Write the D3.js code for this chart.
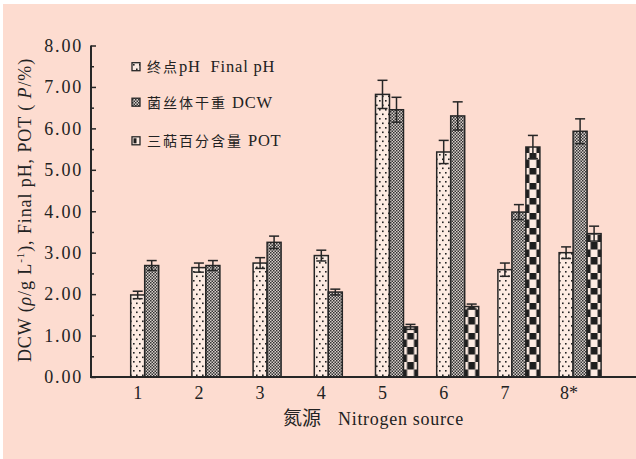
<!DOCTYPE html>
<html>
<head>
<meta charset="utf-8">
<script src="https://cdn.jsdelivr.net/npm/d3@7/dist/d3.min.js"></script>
<style>
  html, body { margin: 0; padding: 0; background: #ffffff; }
  svg { display: block; }
  text { font-family: "Liberation Serif", "Times New Roman", "Noto Sans CJK SC", serif; fill: #222; }
</style>
</head>
<body>
<svg id="chart" width="636" height="459"></svg>
<script>
// Nitrogen sources on the x axis
const categories = ["1", "2", "3", "4", "5", "6", "7", "8*"];
// Final pH of the broth
const finalPH    = [1.98, 2.64, 2.75, 2.93, 6.82, 5.43, 2.59, 3.00];
const finalPHErr = [0.09, 0.11, 0.13, 0.13, 0.34, 0.28, 0.16, 0.14];
// Dry cell weight (g/L)
const dcw        = [2.69, 2.69, 3.25, 2.05, 6.45, 6.30, 3.98, 5.93];
const dcwErr     = [0.12, 0.12, 0.15, 0.07, 0.30, 0.34, 0.18, 0.30];
// Triterpenoid content (%), only measured for sources 5-8
const pot        = [null, null, null, null, 1.21, 1.70, 5.55, 3.46];
const potErr     = [null, null, null, null, 0.06, 0.06, 0.28, 0.18];
const yTicks     = [0, 1, 2, 3, 4, 5, 6, 7, 8];
// legend entries: Chinese part, Latin part
const seriesZh = ["终点", "菌丝体干重", "三萜百分含量"];
const seriesEn = ["pH  Final pH", " DCW", " POT"];

const svg = d3.select("#chart");
const W = 636, H = 459;
const ink = "#262626";

// page background
svg.append("rect").attr("x", 3).attr("y", 4).attr("width", W - 3).attr("height", H - 4)
  .attr("fill", "#fddcd0");

const defs = svg.append("defs");

// dotted fill for final pH
const pDots = defs.append("pattern").attr("id", "pat-ph")
  .attr("patternUnits", "userSpaceOnUse").attr("width", 6).attr("height", 9);
pDots.append("rect").attr("width", 6).attr("height", 9).attr("fill", "#fdebe2");
pDots.append("rect").attr("x", 1).attr("y", 1).attr("width", 1.6).attr("height", 1.6).attr("fill", "#222");
pDots.append("rect").attr("x", 4).attr("y", 5.5).attr("width", 1.6).attr("height", 1.6).attr("fill", "#222");

// fine checker for DCW
const pFine = defs.append("pattern").attr("id", "pat-dcw")
  .attr("patternUnits", "userSpaceOnUse").attr("width", 3).attr("height", 3);
pFine.append("rect").attr("width", 3).attr("height", 3).attr("fill", "#d8cfcb");
pFine.append("rect").attr("x", 0).attr("y", 0).attr("width", 1.5).attr("height", 1.5).attr("fill", "#333");
pFine.append("rect").attr("x", 1.5).attr("y", 1.5).attr("width", 1.5).attr("height", 1.5).attr("fill", "#333");

// coarse checker for POT, built per bar so the squares line up with each bar
function potPattern(id, x0, y0) {
  const p = defs.append("pattern").attr("id", id)
    .attr("patternUnits", "userSpaceOnUse")
    .attr("x", x0).attr("y", y0).attr("width", 14).attr("height", 15);
  p.append("rect").attr("width", 14).attr("height", 15).attr("fill", "#fdebe2");
  p.append("rect").attr("x", 3.5).attr("y", 0).attr("width", 7).attr("height", 7.5).attr("fill", "#1e1e1e");
  p.append("rect").attr("x", 0).attr("y", 7.5).attr("width", 3.5).attr("height", 7.5).attr("fill", "#1e1e1e");
  p.append("rect").attr("x", 10.5).attr("y", 7.5).attr("width", 3.5).attr("height", 7.5).attr("fill", "#1e1e1e");
}

// scales
const y = d3.scaleLinear().domain([0, 8]).range([377, 45.5]);
const x = d3.scaleBand().domain(categories).range([130.7, 130.7 + 8 * 61.2]).padding(0);
const barW = 14;
const xs = d3.scaleBand().domain([0, 1, 2]).range([0, 3 * barW]).padding(0);

const series = [
  { vals: finalPH, errs: finalPHErr, fill: () => "url(#pat-ph)" },
  { vals: dcw, errs: dcwErr, fill: () => "url(#pat-dcw)" },
  { vals: pot, errs: potErr, fill: (bx, by, i) => { const id = "pat-pot-" + i; potPattern(id, bx, by); return "url(#" + id + ")"; } }
];

const bars = svg.append("g");
series.forEach((s, si) => {
  categories.forEach((c, ci) => {
    const v = s.vals[ci];
    if (v == null) return;
    const bx = x(c) + xs(si);
    const by = y(v);
    bars.append("rect")
      .attr("x", bx).attr("y", by)
      .attr("width", xs.bandwidth()).attr("height", y(0) - by)
      .attr("fill", s.fill(bx, y(0), ci))
      .attr("stroke", ink).attr("stroke-width", 1.5);
  });
});

// symmetric error bars with caps
const errG = svg.append("g").attr("stroke", ink).attr("stroke-width", 1.5);
series.forEach((s, si) => {
  categories.forEach((c, ci) => {
    const v = s.vals[ci], e = s.errs[ci];
    if (v == null || e == null) return;
    const cx = x(c) + xs(si) + xs.bandwidth() / 2;
    const yt = y(v + e), yb = y(v - e);
    errG.append("line").attr("x1", cx).attr("x2", cx).attr("y1", yt).attr("y2", yb);
    errG.append("line").attr("x1", cx - 5).attr("x2", cx + 5).attr("y1", yt).attr("y2", yt);
    errG.append("line").attr("x1", cx - 5).attr("x2", cx + 5).attr("y1", yb).attr("y2", yb);
  });
});

// y axis: ticks point inward, minor ticks at halves
const yAxis = d3.axisRight(y).tickValues(yTicks).tickSize(5).tickFormat("");
const yG = svg.append("g").attr("transform", "translate(91,0)").call(yAxis);
const yMinor = d3.axisRight(y).tickValues(d3.range(0.5, 8, 1)).tickSize(3).tickFormat("");
const yG2 = svg.append("g").attr("transform", "translate(91,0)").call(yMinor);
[yG, yG2].forEach(g => {
  g.select(".domain").remove();
  g.selectAll("line").attr("stroke", ink).attr("stroke-width", 1.5);
});
svg.append("line").attr("x1", 91).attr("x2", 91).attr("y1", y(8)).attr("y2", y(0) + 1)
  .attr("stroke", ink).attr("stroke-width", 2);
svg.append("g").selectAll("text").data(yTicks).join("text")
  .attr("x", 83).attr("y", d => y(d)).attr("dy", "0.35em")
  .attr("text-anchor", "end").attr("font-size", 18).attr("letter-spacing", 1.8)
  .text(d => d3.format(".2f")(d));

// x axis line and category labels
svg.append("line").attr("x1", 90).attr("x2", 636).attr("y1", y(0)).attr("y2", y(0))
  .attr("stroke", ink).attr("stroke-width", 2);
svg.append("g").selectAll("text").data(categories).join("text")
  .attr("x", d => x(d) + barW / 2 + (d.length > 1 ? 3 : 0)).attr("y", 399)
  .attr("text-anchor", "middle").attr("font-size", 18)
  .text(d => d);

// axis titles
const xt = svg.append("text").attr("x", 283).attr("y", 425).attr("font-size", 18);
xt.append("tspan").attr("font-size", 19).text("氮源");
xt.append("tspan").attr("x", 338).attr("letter-spacing", 0.7).text("Nitrogen source");

const yt = svg.append("text").attr("transform", "translate(31,210) rotate(-90)")
  .attr("text-anchor", "middle").attr("font-size", 18).attr("letter-spacing", 0.9);
yt.append("tspan").text("DCW (");
yt.append("tspan").attr("font-style", "italic").text("ρ");
yt.append("tspan").text("/g L");
yt.append("tspan").attr("dy", -7).attr("font-size", 11).text("-1");
yt.append("tspan").attr("dy", 7).text("), Final pH, POT ( ");
yt.append("tspan").attr("font-style", "italic").text("P");
yt.append("tspan").text("/%)");

// legend
const legY = [66.7, 102.2, 140.8];
const legFill = ["url(#pat-ph)", "url(#pat-dcw)", null];
const leg = svg.append("g");
seriesZh.forEach((zh, i) => {
  const ly = legY[i];
  if (i < 2) {
    leg.append("rect").attr("x", 132).attr("y", ly - 4).attr("width", 8).attr("height", 8)
      .attr("fill", legFill[i]).attr("stroke", ink).attr("stroke-width", 1.3);
  } else {
    leg.append("rect").attr("x", 132).attr("y", ly - 4).attr("width", 8).attr("height", 8)
      .attr("fill", "#fdebe2").attr("stroke", ink).attr("stroke-width", 1.3);
    leg.append("rect").attr("x", 133.5).attr("y", ly - 2.5).attr("width", 3).attr("height", 5)
      .attr("fill", "#1e1e1e");
  }
  const t = leg.append("text").attr("x", 147).attr("y", ly + 5.5).attr("xml:space", "preserve");
  t.append("tspan").attr("font-size", 14).attr("letter-spacing", 2).text(zh);
  t.append("tspan").attr("font-size", 16.5).attr("letter-spacing", 0.8).text(seriesEn[i]);
});
</script>
</body>
</html>
